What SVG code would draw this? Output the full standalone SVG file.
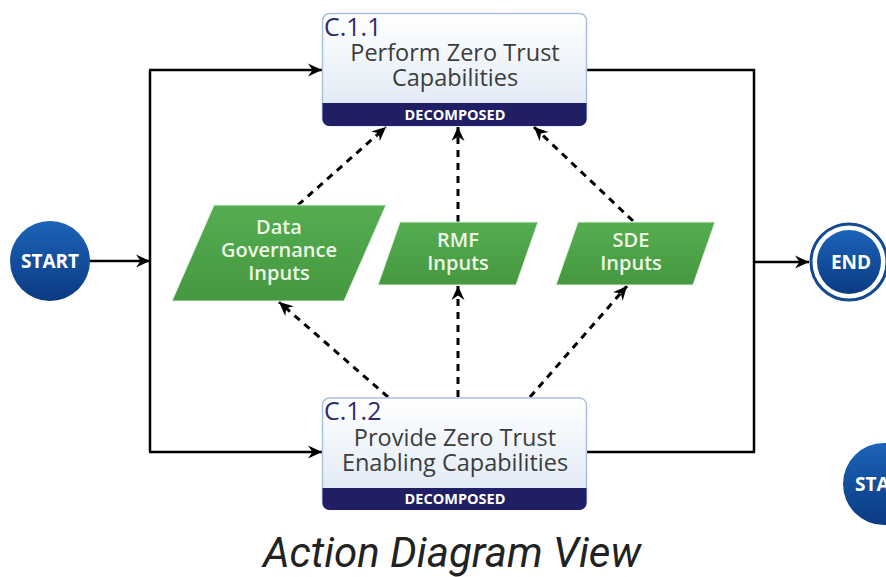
<svg xmlns="http://www.w3.org/2000/svg" width="886" height="577" viewBox="0 0 886 577">
  <defs>
    <linearGradient id="boxFill" x1="0" y1="0" x2="0" y2="1">
      <stop offset="0" stop-color="#ffffff"/>
      <stop offset="1" stop-color="#dbe7f4"/>
    </linearGradient>
    <linearGradient id="termFill" x1="0" y1="0" x2="0" y2="1">
      <stop offset="0" stop-color="#1c63b8"/>
      <stop offset="1" stop-color="#0b3a82"/>
    </linearGradient>
    <linearGradient id="inputFill" x1="0" y1="0" x2="0" y2="1">
      <stop offset="0" stop-color="#55ad52"/>
      <stop offset="1" stop-color="#45983f"/>
    </linearGradient>
    <marker id="arrow" markerUnits="userSpaceOnUse" markerWidth="16" markerHeight="14" refX="14" refY="7" orient="auto">
      <path d="M0,0.5 L14,7 L0,13.5 L4.5,7 z" fill="#000"/>
    </marker>
  </defs>
  <style>
    .flow { fill: none; stroke: #000; stroke-width: 2.5; }
    .dash { fill: none; stroke: #000; stroke-width: 3; stroke-dasharray: 7 6; }
    .box { fill: url(#boxFill); stroke: #a9c1dd; stroke-width: 1.5; }
    .band { fill: #201f66; }
    .num { font-family: "Open Sans", "DejaVu Sans", sans-serif; font-size: 25px; fill: #2f2b6e; }
    .title { font-family: "Open Sans", "DejaVu Sans", sans-serif; font-size: 23.5px; fill: #3c3c3c; text-anchor: middle; }
    .tag { font-family: "Open Sans", "DejaVu Sans", sans-serif; font-size: 14.5px; font-weight: 700; fill: #ffffff; text-anchor: middle; }
    .input { fill: url(#inputFill); stroke: #e4f1e0; stroke-width: 1; }
    .inputText { font-family: "Open Sans", "DejaVu Sans", sans-serif; font-size: 20px; font-weight: 600; fill: #eef7e6; text-anchor: middle; }
    .term { fill: url(#termFill); }
    .termText { font-family: "Open Sans", "DejaVu Sans", sans-serif; font-size: 19px; font-weight: 700; fill: #ffffff; text-anchor: middle; }
    .caption { font-family: Roboto, "Liberation Sans", sans-serif; font-size: 42px; font-style: italic; fill: #222222; text-anchor: middle; }
  </style>

  <rect width="886" height="577" fill="#ffffff"/>

  <!-- connectors -->
  <g id="connectors">
    <line class="flow" x1="90" y1="261" x2="150" y2="261" marker-end="url(#arrow)"/>
    <line class="flow" x1="150" y1="70" x2="150" y2="452"/>
    <line class="flow" x1="149" y1="70" x2="322" y2="70" marker-end="url(#arrow)"/>
    <line class="flow" x1="149" y1="452" x2="322" y2="452" marker-end="url(#arrow)"/>
    <polyline class="flow" points="587,70 754,70 754,452 587,452"/>
    <line class="flow" x1="754" y1="262" x2="809" y2="262" marker-end="url(#arrow)"/>

    <line class="dash" x1="298" y1="205" x2="386" y2="127" marker-end="url(#arrow)"/>
    <line class="dash" x1="458" y1="222" x2="458" y2="127" marker-end="url(#arrow)"/>
    <line class="dash" x1="633" y1="221" x2="534" y2="127" marker-end="url(#arrow)"/>

    <line class="dash" x1="388" y1="397" x2="279" y2="302" marker-end="url(#arrow)"/>
    <line class="dash" x1="458" y1="397" x2="458" y2="286" marker-end="url(#arrow)"/>
    <line class="dash" x1="530" y1="397" x2="627" y2="286" marker-end="url(#arrow)"/>
  </g>

  <!-- terminals -->
  <g id="start">
    <circle class="term" cx="50" cy="261" r="40"/>
    <text class="termText" x="50" y="268">START</text>
  </g>

  <g id="end">
    <circle cx="849" cy="262" r="38" fill="#ffffff" stroke="#134a92" stroke-width="3"/>
    <circle class="term" cx="849" cy="262" r="32"/>
    <text class="termText" x="851" y="269">END</text>
  </g>

  <g id="start2">
    <circle class="term" cx="884" cy="484" r="41"/>
    <text class="termText" x="884" y="491">START</text>
  </g>

  <!-- activities -->
  <g id="c11">
    <rect class="box" x="322.5" y="13.5" width="264" height="112" rx="7"/>
    <path class="band" d="M322.5,103 H586.5 V119 a7,7 0 0 1 -7,7 H329.5 a7,7 0 0 1 -7,-7 z"/>
    <text class="num" x="324" y="36">C.1.1</text>
    <text class="title" x="455" y="61">Perform Zero Trust</text>
    <text class="title" x="455" y="86">Capabilities</text>
    <text class="tag" x="455" y="119.5">DECOMPOSED</text>
  </g>

  <g id="c12">
    <rect class="box" x="322.5" y="398" width="264" height="111" rx="7"/>
    <path class="band" d="M322.5,488 H586.5 V503 a7,7 0 0 1 -7,7 H329.5 a7,7 0 0 1 -7,-7 z"/>
    <text class="num" x="324" y="420">C.1.2</text>
    <text class="title" x="455" y="446">Provide Zero Trust</text>
    <text class="title" x="455" y="471">Enabling Capabilities</text>
    <text class="tag" x="455" y="504">DECOMPOSED</text>
  </g>

  <!-- inputs -->
  <g id="dataGovernance">
    <polygon class="input" points="214,205 386,205 344,301 172,301"/>
    <text class="inputText" x="279" y="234">Data</text>
    <text class="inputText" x="279" y="257">Governance</text>
    <text class="inputText" x="279" y="280">Inputs</text>
  </g>

  <g id="rmf">
    <polygon class="input" points="400,222 538,222 516,285 378,285"/>
    <text class="inputText" x="458" y="247">RMF</text>
    <text class="inputText" x="458" y="270">Inputs</text>
  </g>

  <g id="sde">
    <polygon class="input" points="578,222 715,222 693,285 556,285"/>
    <text class="inputText" x="631" y="247">SDE</text>
    <text class="inputText" x="631" y="270">Inputs</text>
  </g>

  <text class="caption" x="452" y="567">Action Diagram View</text>
</svg>
